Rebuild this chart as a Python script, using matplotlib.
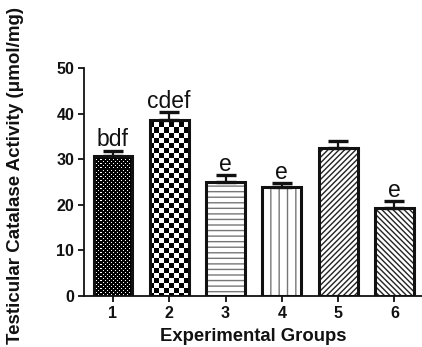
import numpy as np
import matplotlib
matplotlib.use("Agg")
import matplotlib.pyplot as plt

plt.rcParams["font.family"] = ["Liberation Sans", "DejaVu Sans"]

# data
groups = ["1", "2", "3", "4", "5", "6"]
means = [30.8, 38.7, 24.9, 23.8, 32.4, 19.2]
sems = [1.1, 1.7, 1.6, 1.0, 1.6, 1.6]
letters = ["bdf", "cdef", "e", "e", "", "e"]
yticks = [0, 10, 20, 30, 40, 50]

W, H = 422, 347
fig = plt.figure(figsize=(W / 100, H / 100), dpi=100)
ax = fig.add_axes([84 / W, 1 - 296 / H, 338 / W, 228 / H])

x = np.arange(1, len(groups) + 1)
bw = 0.69

# pixel patterns for the first two bars
ny, nx = 228, 338
jj, ii = np.meshgrid(np.arange(nx), np.arange(ny))
dots = np.zeros((ny, nx))
dots[((ii % 4 == 0) & (jj % 4 == 0)) | ((ii % 4 == 2) & (jj % 4 == 2))] = 1
checker = ((ii // 5 + jj // 5) % 2).astype(float)
patterns = {0: dots, 1: checker}

hatches = [None, None, "---", "||", "//////", "\\\\\\\\\\\\"]
hcolors = [None, None, "#777777", "#777777", "#222222", "#222222"]

for k in range(len(groups)):
    if k in patterns:
        b = ax.bar(x[k], means[k], bw, color="white", linewidth=0, zorder=1)[0]
        im = ax.imshow(patterns[k], cmap="gray", vmin=0, vmax=1,
                       extent=[0, 1, 0, 1], transform=ax.transAxes,
                       interpolation="nearest", aspect="auto", zorder=1.5)
        im.set_clip_path(b)
    else:
        ax.bar(x[k], means[k], bw, color="white", edgecolor=hcolors[k],
               hatch=hatches[k], linewidth=0, zorder=1)
    ax.bar(x[k], means[k], bw, color="none", edgecolor="#111111",
           linewidth=2.2, zorder=2)

ax.errorbar(x, means, yerr=[np.zeros(len(sems)), sems], fmt="none",
            ecolor="#111111", elinewidth=1.6, capsize=7, capthick=2.4, zorder=3)

for k in range(len(groups)):
    if letters[k]:
        ax.text(x[k], means[k] + sems[k] + 0.9, letters[k], ha="center",
                va="baseline", fontsize=16.5, color="#111111")

ax.set_xlim(1 - 29 / 56.4, 6.49)
ax.set_ylim(0, 50)
ax.set_xticks(x)
ax.set_xticklabels(groups, fontsize=11.5, fontweight="bold")
ax.set_yticks(yticks)
ax.set_yticklabels([str(t) for t in yticks], fontsize=11.5, fontweight="bold")
ax.tick_params(width=1.3, length=4, color="#111111", labelcolor="#111111", pad=3)
for s in ["top", "right"]:
    ax.spines[s].set_visible(False)
for s in ["left", "bottom"]:
    ax.spines[s].set_linewidth(1.3)
    ax.spines[s].set_color("#111111")

ax.set_xlabel("Experimental Groups", fontsize=13.3, fontweight="bold",
              color="#111111", labelpad=5)
fig.text(16 / W, 1 - 176 / H, "Testicular Catalase Activity (\u03bcmol/mg)",
         rotation=90, ha="center", va="center", fontsize=13.5,
         fontweight="bold", color="#111111")

fig.savefig("out.png", dpi=100)
